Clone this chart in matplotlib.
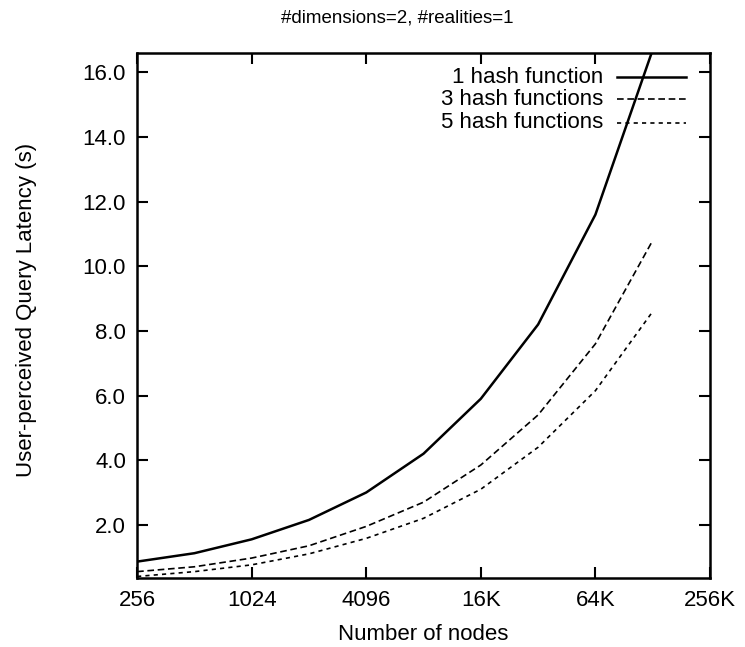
import matplotlib.pyplot as plt
from matplotlib.lines import Line2D

plt.rcParams['font.family'] = ['Liberation Sans', 'DejaVu Sans']

nodes = [256, 512, 1024, 2048, 4096, 8192, 16384, 32768, 65536, 131072]
hash1 = [0.86, 1.12, 1.55, 2.15, 3.0, 4.2, 5.9, 8.2, 11.6, 16.7]
hash3 = [0.55, 0.70, 0.97, 1.35, 1.95, 2.7, 3.85, 5.4, 7.6, 10.8]
hash5 = [0.40, 0.55, 0.76, 1.10, 1.58, 2.2, 3.1, 4.4, 6.15, 8.6]

xticks = [256, 1024, 4096, 16384, 65536, 262144]
xticklabels = ["256", "1024", "4096", "16K", "64K", "256K"]
yticks = [2, 4, 6, 8, 10, 12, 14, 16]

fig = plt.figure(figsize=(7.45, 6.47), dpi=100)
ax = fig.add_axes([0.184, 0.107, 0.769, 0.811])

series = [
    ("1 hash function", hash1, dict(color='black', lw=1.8, ls='-')),
    ("3 hash functions", hash3, dict(color='black', lw=1.2, ls=(0, (4, 2.2)))),
    ("5 hash functions", hash5, dict(color='black', lw=1.2, ls=(0, (2.5, 2.5)))),
]
for label, vals, style in series:
    ax.plot(nodes, vals, **style)

ax.set_xscale('log', base=2)
ax.set_xlim(256, 262144)
ax.set_ylim(0.36, 16.6)
ax.set_xticks(xticks)
ax.set_xticklabels(xticklabels)
ax.set_xticks([], minor=True)
ax.set_yticks(yticks)
ax.set_yticklabels([f"{v:.1f}" for v in yticks])
ax.tick_params(direction='in', length=8, width=1.5, top=True, right=True,
               labelsize=16)
ax.tick_params(axis='x', pad=9)
ax.tick_params(axis='y', pad=8)
for sp in ax.spines.values():
    sp.set_linewidth(1.8)

# legend: right-aligned text with line samples to the right
rows = [0.954, 0.912, 0.867]
for (label, vals, style), yy in zip(series, rows):
    ax.text(0.813, yy, label, transform=ax.transAxes, ha='right', va='center',
            fontsize=16)
    ax.add_line(Line2D([0.837, 0.958], [yy, yy], transform=ax.transAxes, **style))

ax.set_xlabel("Number of nodes", fontsize=16, labelpad=9)
ax.set_ylabel("User-perceived Query Latency (s)", fontsize=16)
ax.yaxis.set_label_coords(-0.175, 0.51)
fig.text(0.533, 0.972, "#dimensions=2, #realities=1", ha='center', va='center',
         fontsize=13.5)

fig.savefig("out.png", dpi=100)
